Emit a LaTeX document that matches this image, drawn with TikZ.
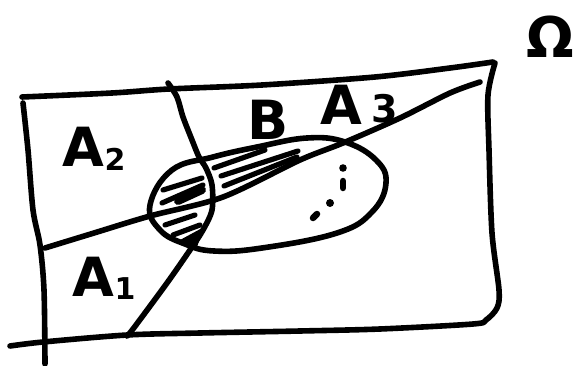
\documentclass[tikz,border=0pt]{standalone}
\usepackage{fontspec}
\setmainfont{DejaVu Sans}
\usetikzlibrary{positioning}
\newcommand{\lblsub}[1]{\raisebox{-3pt}{\fontsize{30}{30}\selectfont #1}}

\begin{document}
\begin{tikzpicture}[x=1pt, y=-1pt, line width=5.6pt, line cap=round, line join=round,
  lbl/.style={inner sep=0pt, font=\fontsize{54}{58}\bfseries\selectfont},
  hatch/.style={line width=5.2pt},
  dot/.style={fill=black, line width=0pt}]
  \useasboundingbox (0,0) rectangle (588,366);
  % frame of Omega
  \draw plot[smooth, tension=0.5] coordinates {(22,97) (112,93) (169,89) (262,85) (375,77) (450,68) (493,62)};
  \draw plot[smooth, tension=0.5] coordinates {(23,103) (28,150) (33,210) (40,245) (44,290) (45,364)};
  \draw plot[smooth, tension=0.5] coordinates {(495,63) (488,95) (489,150) (492,233) (499,290) (497,308) (486,320) (473,324) (380,329) (300,331) (200,333) (127,335) (43,342) (10,346)};
  % partition lines
  \draw plot[smooth, tension=0.5] coordinates {(168,83) (177,97) (183,117) (192,140) (199,157) (206,168) (212,185) (212,210) (203,230) (190,250) (167,283) (133,329) (127,336)};
  \draw plot[smooth, tension=0.5] coordinates {(45,248) (94,233) (150,216) (223,197) (300,160) (343,143) (400,118) (450,93) (480,82)};
  % the set B
  \draw plot[smooth cycle, tension=0.7] coordinates {(150,205) (160,230) (185,244) (214,251) (262,248) (337,233) (372,212) (386,183) (376,160) (345,142) (307,138) (257,147) (213,157) (172,170)};
  % hatching
  \draw[hatch] (214,168) -- (265,150);
  \draw[hatch] (221,176) -- (298,151);
  \draw[hatch] (224,186) -- (297,157);
  \draw[hatch] (163,190) -- (202,178);
  \draw[hatch] (162,203) -- (203,185);
  \draw[hatch, line width=8pt] (178,201) -- (202,190);
  \draw[hatch] (165,225) -- (195,215);
  \draw[hatch] (173,235) -- (200,225);
  \fill (180,240) -- (204,227) -- (197,247) -- cycle;
  % dots
  \fill (343,168) circle (3.8);
  \draw[line width=6.5pt] (343,181) -- (343,188);
  \fill (330,203) circle (4);
  \draw[line width=6.5pt] (313,218) -- (317,214);
  % labels
  \node[lbl, anchor=base west] (a2) at (60,167) {A\lblsub{2}};
  \node[lbl, anchor=base west] (a1) at (70,296) {A\lblsub{1}};
  \node[lbl, anchor=base west] (b) at (245,140) {B};
  \node[lbl, anchor=base west] (a3) at (318,125) {A\,\raisebox{2pt}{\fontsize{38}{38}\selectfont 3}};
  \node[lbl, font=\fontsize{56}{60}\bfseries\selectfont] (omega) at (550,37) {Ω};
\end{tikzpicture}
\end{document}
